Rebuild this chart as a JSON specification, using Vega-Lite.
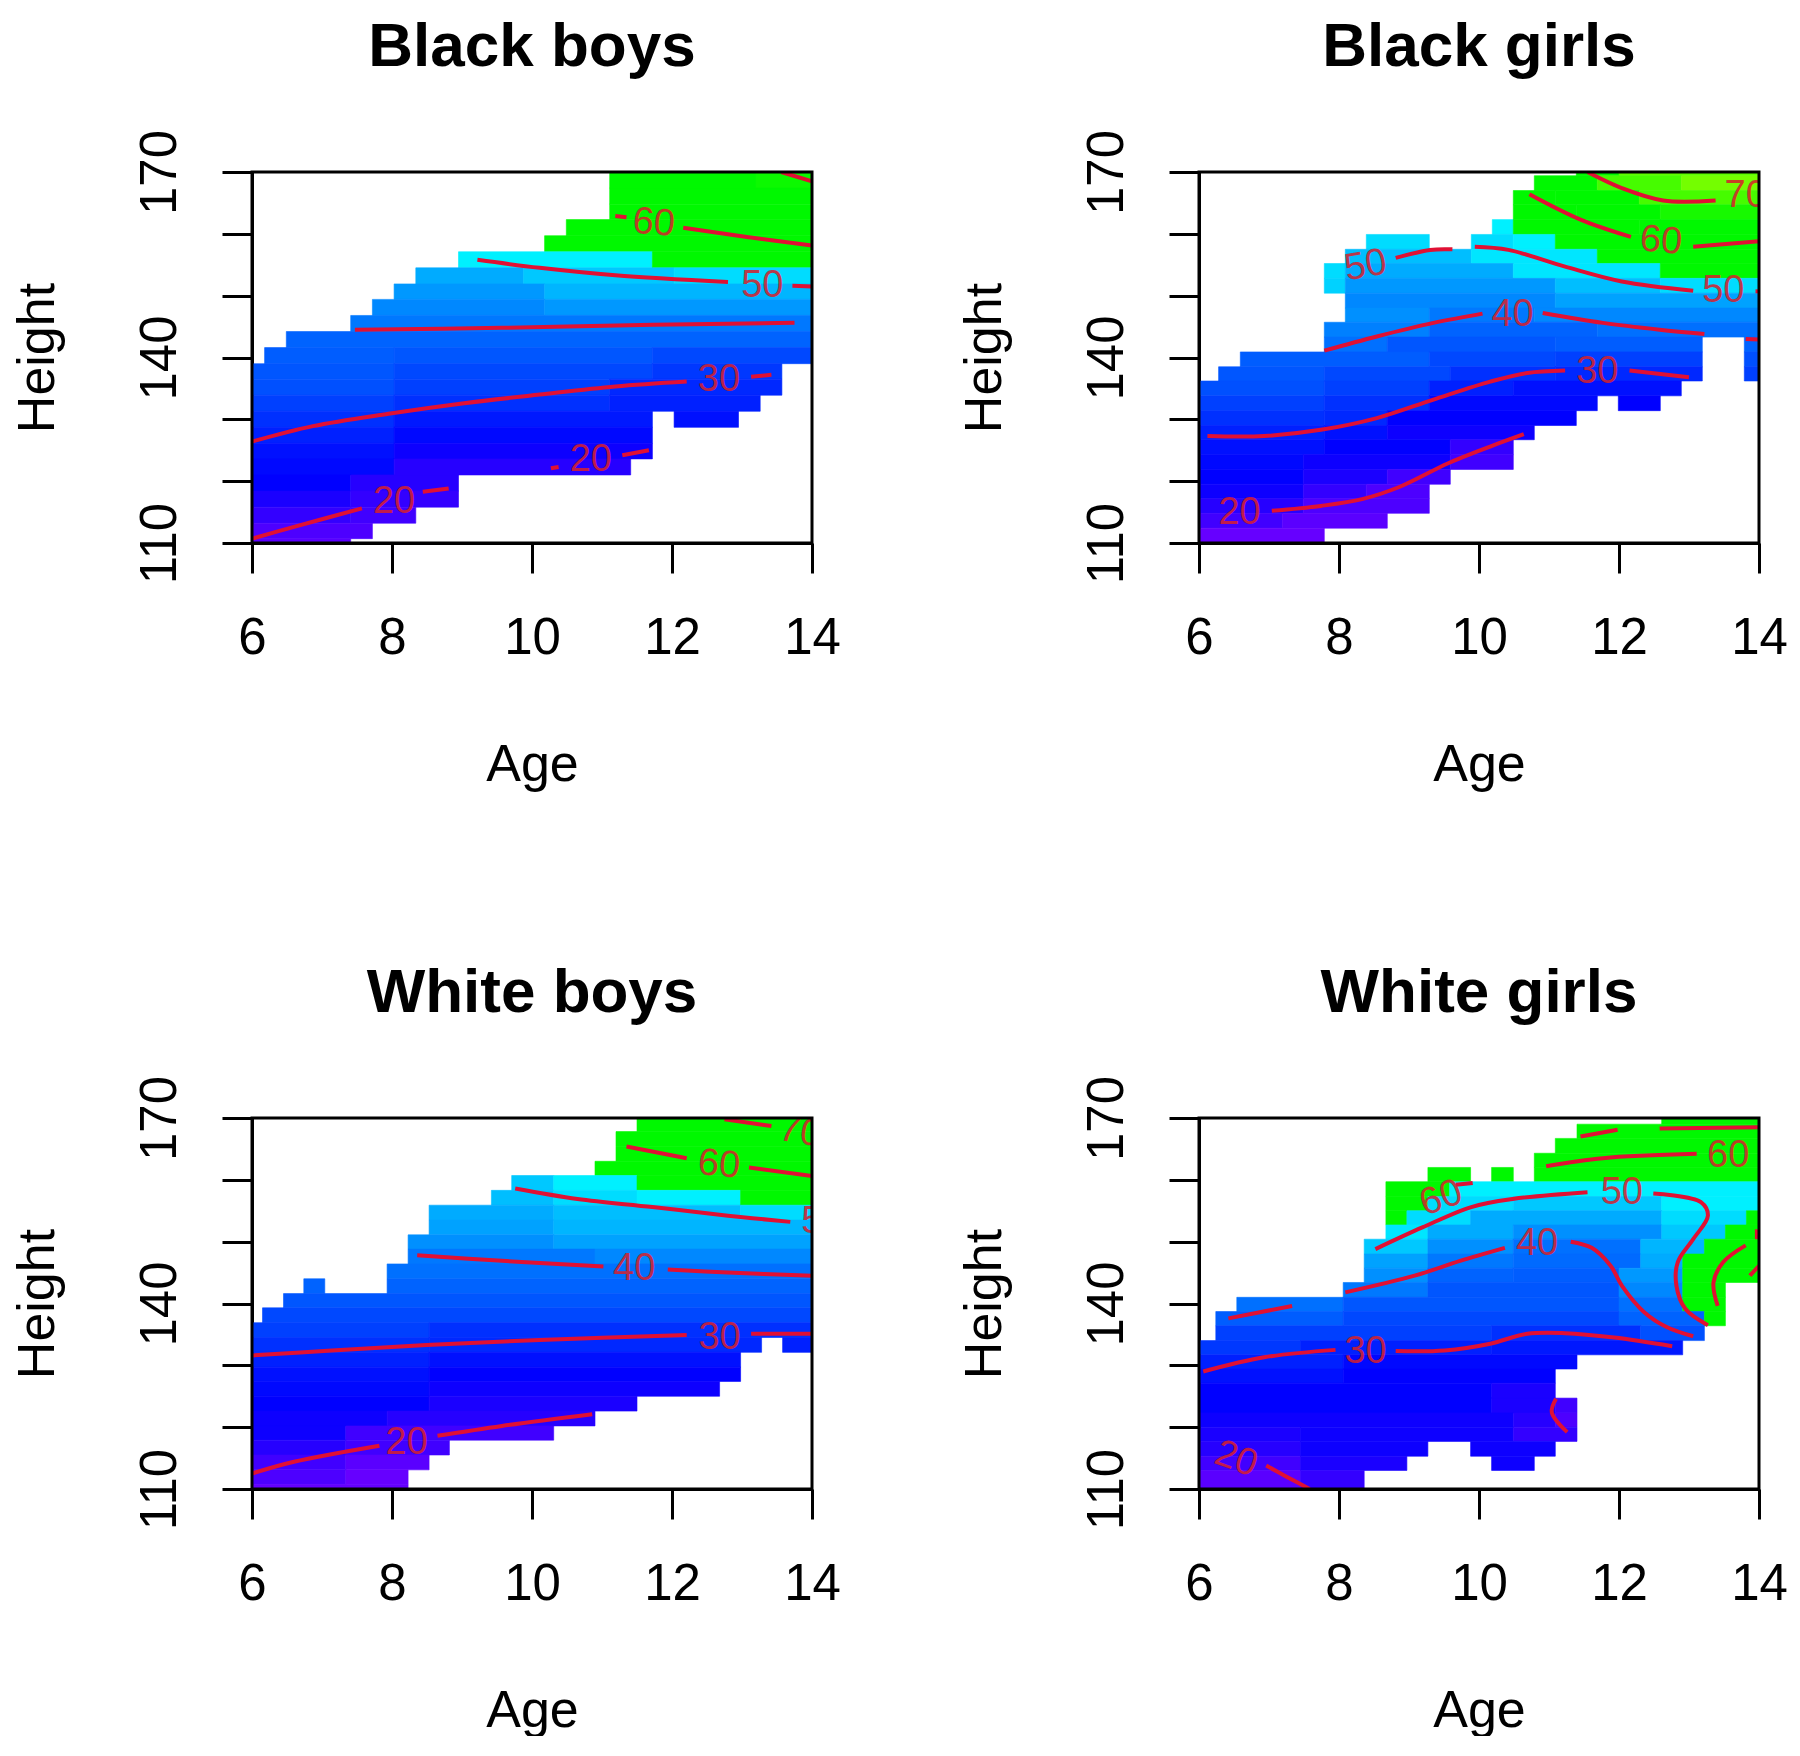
{"$schema":"https://vega.github.io/schema/vega-lite/v6.json","background":"white","padding":{"left":11,"top":16,"right":0,"bottom":0},"config":{"font":"Liberation Sans","view":{"stroke":null}},
"data":{"values":[
{"p":"Black boys","a":11.11,"b":13.2,"h":167.4,"t":170,"v":61},{"p":"Black boys","a":13.2,"b":14,"h":167.4,"t":170,"v":65},{"p":"Black boys","a":11.11,"b":14,"h":164.8,"t":167.4,"v":61},{"p":"Black boys","a":11.11,"b":14,"h":162.3,"t":164.8,"v":60},{"p":"Black boys","a":10.49,"b":14,"h":159.7,"t":162.3,"v":59},{"p":"Black boys","a":10.18,"b":14,"h":157.1,"t":159.7,"v":58},
{"p":"Black boys","a":8.95,"b":11.72,"h":154.5,"t":157.1,"v":54},{"p":"Black boys","a":11.72,"b":14,"h":154.5,"t":157.1,"v":57},
{"p":"Black boys","a":8.34,"b":9.88,"h":151.9,"t":154.5,"v":47},{"p":"Black boys","a":9.88,"b":12.03,"h":151.9,"t":154.5,"v":50},{"p":"Black boys","a":12.03,"b":14,"h":151.9,"t":154.5,"v":52},
{"p":"Black boys","a":8.03,"b":10.18,"h":149.4,"t":151.9,"v":45},{"p":"Black boys","a":10.18,"b":14,"h":149.4,"t":151.9,"v":48},
{"p":"Black boys","a":7.72,"b":10.18,"h":146.8,"t":149.4,"v":43},{"p":"Black boys","a":10.18,"b":14,"h":146.8,"t":149.4,"v":45},
{"p":"Black boys","a":7.41,"b":14,"h":144.2,"t":146.8,"v":41},{"p":"Black boys","a":6.49,"b":14,"h":141.6,"t":144.2,"v":38},
{"p":"Black boys","a":6.18,"b":8.03,"h":139,"t":141.6,"v":37},{"p":"Black boys","a":8.03,"b":11.72,"h":139,"t":141.6,"v":36},{"p":"Black boys","a":11.72,"b":14,"h":139,"t":141.6,"v":34},
{"p":"Black boys","a":6,"b":8.03,"h":136.5,"t":139,"v":36},{"p":"Black boys","a":8.03,"b":11.72,"h":136.5,"t":139,"v":34},{"p":"Black boys","a":11.72,"b":13.57,"h":136.5,"t":139,"v":32},
{"p":"Black boys","a":6,"b":8.03,"h":133.9,"t":136.5,"v":35},{"p":"Black boys","a":8.03,"b":11.11,"h":133.9,"t":136.5,"v":33},{"p":"Black boys","a":11.11,"b":13.57,"h":133.9,"t":136.5,"v":30},
{"p":"Black boys","a":6,"b":8.03,"h":131.3,"t":133.9,"v":33},{"p":"Black boys","a":8.03,"b":11.11,"h":131.3,"t":133.9,"v":31},{"p":"Black boys","a":11.11,"b":13.26,"h":131.3,"t":133.9,"v":29},
{"p":"Black boys","a":6,"b":8.03,"h":128.7,"t":131.3,"v":31},{"p":"Black boys","a":8.03,"b":11.72,"h":128.7,"t":131.3,"v":28},{"p":"Black boys","a":12.03,"b":12.95,"h":128.7,"t":131.3,"v":27},
{"p":"Black boys","a":6,"b":8.03,"h":126.1,"t":128.7,"v":29},{"p":"Black boys","a":8.03,"b":11.72,"h":126.1,"t":128.7,"v":26},
{"p":"Black boys","a":6,"b":8.03,"h":123.6,"t":126.1,"v":27},{"p":"Black boys","a":8.03,"b":11.72,"h":123.6,"t":126.1,"v":24},
{"p":"Black boys","a":6,"b":8.03,"h":121,"t":123.6,"v":26},{"p":"Black boys","a":8.03,"b":11.41,"h":121,"t":123.6,"v":22},
{"p":"Black boys","a":6,"b":7.41,"h":118.4,"t":121,"v":25},{"p":"Black boys","a":7.41,"b":8.95,"h":118.4,"t":121,"v":22},
{"p":"Black boys","a":6,"b":7.41,"h":115.8,"t":118.4,"v":23},{"p":"Black boys","a":7.41,"b":8.95,"h":115.8,"t":118.4,"v":21},
{"p":"Black boys","a":6,"b":7.41,"h":113.2,"t":115.8,"v":21},{"p":"Black boys","a":7.41,"b":8.34,"h":113.2,"t":115.8,"v":20},
{"p":"Black boys","a":6,"b":7.72,"h":110.7,"t":113.2,"v":19},{"p":"Black boys","a":6,"b":7.41,"h":110,"t":110.7,"v":18},

{"p":"Black girls","a":11.39,"b":12,"h":169.4,"t":170,"v":64},{"p":"Black girls","a":12,"b":14,"h":169.4,"t":170,"v":72},
{"p":"Black girls","a":10.79,"b":11.69,"h":167,"t":169.4,"v":63},{"p":"Black girls","a":11.69,"b":12.89,"h":167,"t":169.4,"v":70},{"p":"Black girls","a":12.89,"b":14,"h":167,"t":169.4,"v":74},
{"p":"Black girls","a":10.49,"b":11.09,"h":164.7,"t":167,"v":60},{"p":"Black girls","a":11.09,"b":12.29,"h":164.7,"t":167,"v":64},{"p":"Black girls","a":12.29,"b":14,"h":164.7,"t":167,"v":70},
{"p":"Black girls","a":10.49,"b":11.39,"h":162.3,"t":164.7,"v":58},{"p":"Black girls","a":11.39,"b":12.59,"h":162.3,"t":164.7,"v":62},{"p":"Black girls","a":12.59,"b":14,"h":162.3,"t":164.7,"v":66},
{"p":"Black girls","a":10.19,"b":10.49,"h":159.9,"t":162.3,"v":54},{"p":"Black girls","a":10.49,"b":12.29,"h":159.9,"t":162.3,"v":58},{"p":"Black girls","a":12.29,"b":14,"h":159.9,"t":162.3,"v":63},
{"p":"Black girls","a":8.39,"b":9.29,"h":157.5,"t":159.9,"v":52},{"p":"Black girls","a":9.89,"b":10.49,"h":157.5,"t":159.9,"v":52},{"p":"Black girls","a":10.49,"b":11.09,"h":157.5,"t":159.9,"v":54},{"p":"Black girls","a":11.09,"b":14,"h":157.5,"t":159.9,"v":58},
{"p":"Black girls","a":8.09,"b":9.89,"h":155.2,"t":157.5,"v":49},{"p":"Black girls","a":9.89,"b":11.69,"h":155.2,"t":157.5,"v":53},{"p":"Black girls","a":11.69,"b":14,"h":155.2,"t":157.5,"v":57},
{"p":"Black girls","a":7.79,"b":8.09,"h":152.8,"t":155.2,"v":52},{"p":"Black girls","a":8.09,"b":10.49,"h":152.8,"t":155.2,"v":47},{"p":"Black girls","a":10.49,"b":12.59,"h":152.8,"t":155.2,"v":53},{"p":"Black girls","a":12.59,"b":14,"h":152.8,"t":155.2,"v":56},
{"p":"Black girls","a":7.79,"b":8.09,"h":150.4,"t":152.8,"v":51},{"p":"Black girls","a":8.09,"b":11.09,"h":150.4,"t":152.8,"v":45},{"p":"Black girls","a":11.09,"b":12.59,"h":150.4,"t":152.8,"v":49},{"p":"Black girls","a":12.59,"b":14,"h":150.4,"t":152.8,"v":52},
{"p":"Black girls","a":8.09,"b":11.09,"h":148,"t":150.4,"v":43},{"p":"Black girls","a":11.09,"b":14,"h":148,"t":150.4,"v":46},
{"p":"Black girls","a":8.09,"b":9.29,"h":145.7,"t":148,"v":44},{"p":"Black girls","a":9.29,"b":10.79,"h":145.7,"t":148,"v":41},{"p":"Black girls","a":10.79,"b":14,"h":145.7,"t":148,"v":43},
{"p":"Black girls","a":7.79,"b":9.29,"h":143.3,"t":145.7,"v":42},{"p":"Black girls","a":9.29,"b":11.69,"h":143.3,"t":145.7,"v":38},{"p":"Black girls","a":11.69,"b":14,"h":143.3,"t":145.7,"v":40},
{"p":"Black girls","a":7.79,"b":8.69,"h":140.9,"t":143.3,"v":40},{"p":"Black girls","a":8.69,"b":11.09,"h":140.9,"t":143.3,"v":36},{"p":"Black girls","a":11.09,"b":13.19,"h":140.9,"t":143.3,"v":37},{"p":"Black girls","a":13.79,"b":14,"h":140.9,"t":143.3,"v":38},
{"p":"Black girls","a":6.59,"b":9.29,"h":138.5,"t":140.9,"v":37},{"p":"Black girls","a":9.29,"b":11.09,"h":138.5,"t":140.9,"v":34},{"p":"Black girls","a":11.09,"b":13.19,"h":138.5,"t":140.9,"v":33},{"p":"Black girls","a":13.79,"b":14,"h":138.5,"t":140.9,"v":35},
{"p":"Black girls","a":6.28,"b":7.79,"h":136.2,"t":138.5,"v":36},{"p":"Black girls","a":7.79,"b":9.59,"h":136.2,"t":138.5,"v":34},{"p":"Black girls","a":9.59,"b":11.09,"h":136.2,"t":138.5,"v":31},{"p":"Black girls","a":11.09,"b":13.19,"h":136.2,"t":138.5,"v":30},{"p":"Black girls","a":13.79,"b":14,"h":136.2,"t":138.5,"v":33},
{"p":"Black girls","a":6,"b":7.79,"h":133.8,"t":136.2,"v":35},{"p":"Black girls","a":7.79,"b":9.29,"h":133.8,"t":136.2,"v":33},{"p":"Black girls","a":9.29,"b":10.49,"h":133.8,"t":136.2,"v":29},{"p":"Black girls","a":10.49,"b":12.89,"h":133.8,"t":136.2,"v":27},
{"p":"Black girls","a":6,"b":7.79,"h":131.4,"t":133.8,"v":33},{"p":"Black girls","a":7.79,"b":9.29,"h":131.4,"t":133.8,"v":31},{"p":"Black girls","a":9.29,"b":11.69,"h":131.4,"t":133.8,"v":26},{"p":"Black girls","a":11.99,"b":12.59,"h":131.4,"t":133.8,"v":25},
{"p":"Black girls","a":6,"b":7.79,"h":129,"t":131.4,"v":31},{"p":"Black girls","a":7.79,"b":8.69,"h":129,"t":131.4,"v":30},{"p":"Black girls","a":8.69,"b":11.39,"h":129,"t":131.4,"v":25},
{"p":"Black girls","a":6,"b":7.79,"h":126.7,"t":129,"v":29},{"p":"Black girls","a":7.79,"b":8.69,"h":126.7,"t":129,"v":27},{"p":"Black girls","a":8.69,"b":10.79,"h":126.7,"t":129,"v":24},
{"p":"Black girls","a":6,"b":7.79,"h":124.3,"t":126.7,"v":27},{"p":"Black girls","a":7.79,"b":9.59,"h":124.3,"t":126.7,"v":25},{"p":"Black girls","a":9.59,"b":10.49,"h":124.3,"t":126.7,"v":21},
{"p":"Black girls","a":6,"b":7.49,"h":121.9,"t":124.3,"v":26},{"p":"Black girls","a":7.49,"b":9.59,"h":121.9,"t":124.3,"v":24},{"p":"Black girls","a":9.59,"b":10.49,"h":121.9,"t":124.3,"v":20},
{"p":"Black girls","a":6,"b":7.49,"h":119.5,"t":121.9,"v":25},{"p":"Black girls","a":7.49,"b":8.69,"h":119.5,"t":121.9,"v":23},{"p":"Black girls","a":8.69,"b":9.59,"h":119.5,"t":121.9,"v":20},
{"p":"Black girls","a":6,"b":7.49,"h":117.2,"t":119.5,"v":24},{"p":"Black girls","a":7.49,"b":8.39,"h":117.2,"t":119.5,"v":21},{"p":"Black girls","a":8.39,"b":9.29,"h":117.2,"t":119.5,"v":19},
{"p":"Black girls","a":6,"b":7.49,"h":114.8,"t":117.2,"v":22},{"p":"Black girls","a":7.49,"b":9.29,"h":114.8,"t":117.2,"v":19},
{"p":"Black girls","a":6,"b":7.19,"h":112.4,"t":114.8,"v":20},{"p":"Black girls","a":7.19,"b":8.69,"h":112.4,"t":114.8,"v":18},
{"p":"Black girls","a":6,"b":7.79,"h":110,"t":112.4,"v":17},

{"p":"White boys","a":11.5,"b":14,"h":167.8,"t":170,"v":63},{"p":"White boys","a":11.2,"b":14,"h":165.4,"t":167.8,"v":62},{"p":"White boys","a":11.2,"b":14,"h":163,"t":165.4,"v":61},{"p":"White boys","a":10.9,"b":14,"h":160.7,"t":163,"v":59},
{"p":"White boys","a":9.71,"b":10.31,"h":158.3,"t":160.7,"v":50},{"p":"White boys","a":10.31,"b":11.5,"h":158.3,"t":160.7,"v":54},{"p":"White boys","a":11.5,"b":14,"h":158.3,"t":160.7,"v":57},
{"p":"White boys","a":9.42,"b":10.31,"h":155.9,"t":158.3,"v":49},{"p":"White boys","a":10.31,"b":11.5,"h":155.9,"t":158.3,"v":52},{"p":"White boys","a":11.5,"b":12.98,"h":155.9,"t":158.3,"v":54},{"p":"White boys","a":12.98,"b":14,"h":155.9,"t":158.3,"v":57},
{"p":"White boys","a":8.53,"b":10.31,"h":153.5,"t":155.9,"v":47},{"p":"White boys","a":10.31,"b":12.98,"h":153.5,"t":155.9,"v":49},{"p":"White boys","a":12.98,"b":14,"h":153.5,"t":155.9,"v":52},
{"p":"White boys","a":8.53,"b":10.31,"h":151.1,"t":153.5,"v":46},{"p":"White boys","a":10.31,"b":14,"h":151.1,"t":153.5,"v":48},
{"p":"White boys","a":8.23,"b":10.31,"h":148.8,"t":151.1,"v":44},{"p":"White boys","a":10.31,"b":14,"h":148.8,"t":151.1,"v":46},
{"p":"White boys","a":8.23,"b":10.9,"h":146.4,"t":148.8,"v":41},{"p":"White boys","a":10.9,"b":14,"h":146.4,"t":148.8,"v":43},
{"p":"White boys","a":7.93,"b":14,"h":144,"t":146.4,"v":40},
{"p":"White boys","a":6.74,"b":7.04,"h":141.6,"t":144,"v":38},{"p":"White boys","a":7.93,"b":14,"h":141.6,"t":144,"v":38},
{"p":"White boys","a":6.45,"b":14,"h":139.3,"t":141.6,"v":36},{"p":"White boys","a":6.15,"b":14,"h":136.9,"t":139.3,"v":34},
{"p":"White boys","a":6,"b":8.53,"h":134.5,"t":136.9,"v":33},{"p":"White boys","a":8.53,"b":14,"h":134.5,"t":136.9,"v":31},
{"p":"White boys","a":6,"b":8.53,"h":132.1,"t":134.5,"v":31},{"p":"White boys","a":8.53,"b":13.28,"h":132.1,"t":134.5,"v":30},{"p":"White boys","a":13.58,"b":14,"h":132.1,"t":134.5,"v":29},
{"p":"White boys","a":6,"b":8.53,"h":129.7,"t":132.1,"v":29},{"p":"White boys","a":8.53,"b":12.98,"h":129.7,"t":132.1,"v":27},
{"p":"White boys","a":6,"b":8.53,"h":127.4,"t":129.7,"v":27},{"p":"White boys","a":8.53,"b":12.98,"h":127.4,"t":129.7,"v":25},
{"p":"White boys","a":6,"b":8.53,"h":125,"t":127.4,"v":26},{"p":"White boys","a":8.53,"b":12.68,"h":125,"t":127.4,"v":24},
{"p":"White boys","a":6,"b":8.53,"h":122.6,"t":125,"v":25},{"p":"White boys","a":8.53,"b":11.5,"h":122.6,"t":125,"v":23},
{"p":"White boys","a":6,"b":7.93,"h":120.2,"t":122.6,"v":24},{"p":"White boys","a":7.93,"b":10.9,"h":120.2,"t":122.6,"v":22},
{"p":"White boys","a":6,"b":7.34,"h":117.9,"t":120.2,"v":24},{"p":"White boys","a":7.34,"b":10.31,"h":117.9,"t":120.2,"v":20},
{"p":"White boys","a":6,"b":7.34,"h":115.5,"t":117.9,"v":22},{"p":"White boys","a":7.34,"b":8.82,"h":115.5,"t":117.9,"v":20},
{"p":"White boys","a":6,"b":7.34,"h":113.1,"t":115.5,"v":20},{"p":"White boys","a":7.34,"b":8.53,"h":113.1,"t":115.5,"v":18},
{"p":"White boys","a":6,"b":7.34,"h":110.7,"t":113.1,"v":19},{"p":"White boys","a":7.34,"b":8.23,"h":110.7,"t":113.1,"v":17},{"p":"White boys","a":6,"b":8.23,"h":110,"t":110.7,"v":17},

{"p":"White girls","a":12.61,"b":14,"h":169,"t":170,"v":62},{"p":"White girls","a":11.4,"b":14,"h":166.7,"t":169,"v":60},{"p":"White girls","a":11.09,"b":14,"h":164.3,"t":166.7,"v":60},{"p":"White girls","a":10.79,"b":14,"h":162,"t":164.3,"v":59},
{"p":"White girls","a":9.27,"b":9.88,"h":159.7,"t":162,"v":59},{"p":"White girls","a":10.18,"b":10.49,"h":159.7,"t":162,"v":59},{"p":"White girls","a":10.79,"b":14,"h":159.7,"t":162,"v":59},
{"p":"White girls","a":8.67,"b":9.58,"h":157.3,"t":159.7,"v":58},{"p":"White girls","a":9.58,"b":14,"h":157.3,"t":159.7,"v":54},
{"p":"White girls","a":8.67,"b":9.27,"h":155,"t":157.3,"v":57},{"p":"White girls","a":9.27,"b":10.49,"h":155,"t":157.3,"v":52},{"p":"White girls","a":10.49,"b":12.61,"h":155,"t":157.3,"v":50},{"p":"White girls","a":12.61,"b":14,"h":155,"t":157.3,"v":54},
{"p":"White girls","a":8.67,"b":8.97,"h":152.7,"t":155,"v":57},{"p":"White girls","a":8.97,"b":9.88,"h":152.7,"t":155,"v":52},{"p":"White girls","a":9.88,"b":12.61,"h":152.7,"t":155,"v":47},{"p":"White girls","a":12.61,"b":13.82,"h":152.7,"t":155,"v":52},{"p":"White girls","a":13.82,"b":14,"h":152.7,"t":155,"v":57},
{"p":"White girls","a":8.67,"b":9.27,"h":150.4,"t":152.7,"v":53},{"p":"White girls","a":9.27,"b":10.49,"h":150.4,"t":152.7,"v":47},{"p":"White girls","a":10.49,"b":12.61,"h":150.4,"t":152.7,"v":44},{"p":"White girls","a":12.61,"b":13.52,"h":150.4,"t":152.7,"v":50},{"p":"White girls","a":13.52,"b":14,"h":150.4,"t":152.7,"v":58},
{"p":"White girls","a":8.36,"b":9.27,"h":148,"t":150.4,"v":50},{"p":"White girls","a":9.27,"b":10.49,"h":148,"t":150.4,"v":44},{"p":"White girls","a":10.49,"b":12.31,"h":148,"t":150.4,"v":40},{"p":"White girls","a":12.31,"b":13.22,"h":148,"t":150.4,"v":48},{"p":"White girls","a":13.22,"b":14,"h":148,"t":150.4,"v":60},
{"p":"White girls","a":8.36,"b":9.27,"h":145.7,"t":148,"v":46},{"p":"White girls","a":9.27,"b":10.49,"h":145.7,"t":148,"v":41},{"p":"White girls","a":10.49,"b":12.31,"h":145.7,"t":148,"v":39},{"p":"White girls","a":12.31,"b":12.91,"h":145.7,"t":148,"v":47},{"p":"White girls","a":12.91,"b":14,"h":145.7,"t":148,"v":60},
{"p":"White girls","a":8.36,"b":9.27,"h":143.4,"t":145.7,"v":44},{"p":"White girls","a":9.27,"b":10.49,"h":143.4,"t":145.7,"v":38},{"p":"White girls","a":10.49,"b":12,"h":143.4,"t":145.7,"v":37},{"p":"White girls","a":12,"b":12.91,"h":143.4,"t":145.7,"v":45},{"p":"White girls","a":12.91,"b":14,"h":143.4,"t":145.7,"v":60},
{"p":"White girls","a":8.06,"b":9.27,"h":141,"t":143.4,"v":41},{"p":"White girls","a":9.27,"b":12,"h":141,"t":143.4,"v":36},{"p":"White girls","a":12,"b":12.91,"h":141,"t":143.4,"v":43},{"p":"White girls","a":12.91,"b":13.52,"h":141,"t":143.4,"v":58},
{"p":"White girls","a":6.54,"b":8.06,"h":138.7,"t":141,"v":40},{"p":"White girls","a":8.06,"b":12,"h":138.7,"t":141,"v":36},{"p":"White girls","a":12,"b":12.91,"h":138.7,"t":141,"v":40},{"p":"White girls","a":12.91,"b":13.52,"h":138.7,"t":141,"v":57},
{"p":"White girls","a":6.24,"b":8.06,"h":136.4,"t":138.7,"v":37},{"p":"White girls","a":8.06,"b":12,"h":136.4,"t":138.7,"v":34},{"p":"White girls","a":12,"b":13.22,"h":136.4,"t":138.7,"v":38},{"p":"White girls","a":13.22,"b":13.52,"h":136.4,"t":138.7,"v":56},
{"p":"White girls","a":6.24,"b":10.18,"h":134,"t":136.4,"v":33},{"p":"White girls","a":10.18,"b":12.31,"h":134,"t":136.4,"v":31},{"p":"White girls","a":12.31,"b":13.22,"h":134,"t":136.4,"v":35},
{"p":"White girls","a":6,"b":7.45,"h":131.7,"t":134,"v":32},{"p":"White girls","a":7.45,"b":10.18,"h":131.7,"t":134,"v":29},{"p":"White girls","a":10.18,"b":12.91,"h":131.7,"t":134,"v":28},
{"p":"White girls","a":6,"b":8.06,"h":129.4,"t":131.7,"v":29},{"p":"White girls","a":8.06,"b":11.4,"h":129.4,"t":131.7,"v":26},
{"p":"White girls","a":6,"b":8.06,"h":127.1,"t":129.4,"v":27},{"p":"White girls","a":8.06,"b":11.09,"h":127.1,"t":129.4,"v":25},
{"p":"White girls","a":6,"b":10.18,"h":124.7,"t":127.1,"v":25},{"p":"White girls","a":10.18,"b":11.09,"h":124.7,"t":127.1,"v":23},
{"p":"White girls","a":6,"b":10.18,"h":122.3,"t":124.7,"v":25},{"p":"White girls","a":10.18,"b":11.09,"h":122.3,"t":124.7,"v":23},{"p":"White girls","a":11.09,"b":11.4,"h":122.3,"t":124.7,"v":20},
{"p":"White girls","a":6,"b":10.49,"h":120,"t":122.3,"v":24},{"p":"White girls","a":10.49,"b":11.09,"h":120,"t":122.3,"v":22},{"p":"White girls","a":11.09,"b":11.4,"h":120,"t":122.3,"v":19},
{"p":"White girls","a":6,"b":7.45,"h":117.7,"t":120,"v":23},{"p":"White girls","a":7.45,"b":10.49,"h":117.7,"t":120,"v":24},{"p":"White girls","a":10.49,"b":11.4,"h":117.7,"t":120,"v":21},
{"p":"White girls","a":6,"b":7.45,"h":115.3,"t":117.7,"v":22},{"p":"White girls","a":7.45,"b":9.27,"h":115.3,"t":117.7,"v":24},{"p":"White girls","a":9.88,"b":11.09,"h":115.3,"t":117.7,"v":24},
{"p":"White girls","a":6,"b":7.45,"h":113,"t":115.3,"v":20},{"p":"White girls","a":7.45,"b":8.97,"h":113,"t":115.3,"v":23},{"p":"White girls","a":10.18,"b":10.79,"h":113,"t":115.3,"v":24},
{"p":"White girls","a":6,"b":7.45,"h":110,"t":113,"v":18},{"p":"White girls","a":7.45,"b":8.36,"h":110,"t":113,"v":21},

{"p":"Black boys","c":"a","i":1,"a":6,"h":110.7},{"p":"Black boys","c":"a","i":2,"a":6.6,"h":112.6},{"p":"Black boys","c":"a","i":3,"a":7.57,"h":115.6},
{"p":"Black boys","c":"b","i":1,"a":8.44,"h":118.3},{"p":"Black boys","c":"b","i":2,"a":8.81,"h":118.8},
{"p":"Black boys","c":"d","i":1,"a":10.27,"h":122.1},{"p":"Black boys","c":"d","i":2,"a":10.38,"h":122.3},
{"p":"Black boys","c":"e","i":1,"a":11.29,"h":124.2},{"p":"Black boys","c":"e","i":2,"a":11.67,"h":125},
{"p":"Black boys","c":"f","i":1,"a":6,"h":126.4},{"p":"Black boys","c":"f","i":2,"a":6.87,"h":128.9},{"p":"Black boys","c":"f","i":3,"a":7.95,"h":130.9},{"p":"Black boys","c":"f","i":4,"a":9.03,"h":132.6},{"p":"Black boys","c":"f","i":5,"a":10.11,"h":134},{"p":"Black boys","c":"f","i":6,"a":11.19,"h":135.3},{"p":"Black boys","c":"f","i":7,"a":12.21,"h":136.1},
{"p":"Black boys","c":"g","i":1,"a":13.13,"h":136.9},{"p":"Black boys","c":"g","i":2,"a":13.42,"h":137.2},
{"p":"Black boys","c":"m","i":1,"a":7.47,"h":144.5},{"p":"Black boys","c":"m","i":2,"a":9.57,"h":144.8},{"p":"Black boys","c":"m","i":3,"a":11.73,"h":145.3},{"p":"Black boys","c":"m","i":4,"a":13.75,"h":145.6},
{"p":"Black boys","c":"n","i":1,"a":9.22,"h":155.8},{"p":"Black boys","c":"n","i":2,"a":10.11,"h":154.5},{"p":"Black boys","c":"n","i":3,"a":11.19,"h":153.3},{"p":"Black boys","c":"n","i":4,"a":12.8,"h":152.2},
{"p":"Black boys","c":"o","i":1,"a":13.72,"h":151.6},{"p":"Black boys","c":"o","i":2,"a":14,"h":151.5},
{"p":"Black boys","c":"q","i":1,"a":11.19,"h":162.9},{"p":"Black boys","c":"q","i":2,"a":11.35,"h":162.7},
{"p":"Black boys","c":"r","i":1,"a":12.16,"h":161},{"p":"Black boys","c":"r","i":2,"a":13.07,"h":159.5},{"p":"Black boys","c":"r","i":3,"a":14,"h":158.1},
{"p":"Black boys","c":"s","i":1,"a":13.56,"h":170},{"p":"Black boys","c":"s","i":2,"a":14,"h":168.5},

{"p":"Black girls","c":"a","i":1,"a":7.04,"h":115.2},{"p":"Black girls","c":"a","i":2,"a":7.74,"h":116},{"p":"Black girls","c":"a","i":3,"a":8.33,"h":117.1},{"p":"Black girls","c":"a","i":4,"a":8.87,"h":119.1},{"p":"Black girls","c":"a","i":5,"a":9.56,"h":122.9},{"p":"Black girls","c":"a","i":6,"a":10.16,"h":125.6},{"p":"Black girls","c":"a","i":7,"a":10.64,"h":127.6},
{"p":"Black girls","c":"b","i":1,"a":6.12,"h":127.3},{"p":"Black girls","c":"b","i":2,"a":6.93,"h":127.3},{"p":"Black girls","c":"b","i":3,"a":7.74,"h":128.3},{"p":"Black girls","c":"b","i":4,"a":8.54,"h":130.2},{"p":"Black girls","c":"b","i":5,"a":9.35,"h":133.2},{"p":"Black girls","c":"b","i":6,"a":10.16,"h":136.1},{"p":"Black girls","c":"b","i":7,"a":10.69,"h":137.5},{"p":"Black girls","c":"b","i":8,"a":11.23,"h":137.9},
{"p":"Black girls","c":"d","i":1,"a":12.15,"h":137.9},{"p":"Black girls","c":"d","i":2,"a":13,"h":136.8},
{"p":"Black girls","c":"e","i":1,"a":7.79,"h":141.1},{"p":"Black girls","c":"e","i":2,"a":8.54,"h":143.4},{"p":"Black girls","c":"e","i":3,"a":9.35,"h":145.6},{"p":"Black girls","c":"e","i":4,"a":10.05,"h":147.1},
{"p":"Black girls","c":"f","i":1,"a":10.91,"h":147.2},{"p":"Black girls","c":"f","i":2,"a":11.77,"h":145.6},{"p":"Black girls","c":"f","i":3,"a":12.58,"h":144.5},{"p":"Black girls","c":"f","i":4,"a":13.22,"h":143.8},
{"p":"Black girls","c":"g","i":1,"a":13.81,"h":143},{"p":"Black girls","c":"g","i":2,"a":14,"h":142.9},
{"p":"Black girls","c":"m","i":1,"a":8.81,"h":156.1},{"p":"Black girls","c":"m","i":2,"a":9.3,"h":157.4},{"p":"Black girls","c":"m","i":3,"a":9.62,"h":157.5},
{"p":"Black girls","c":"n","i":1,"a":9.94,"h":157.9},{"p":"Black girls","c":"n","i":2,"a":10.42,"h":157.4},{"p":"Black girls","c":"n","i":3,"a":11.23,"h":154.7},{"p":"Black girls","c":"n","i":4,"a":12.04,"h":152.3},{"p":"Black girls","c":"n","i":5,"a":13.06,"h":150.8},
{"p":"Black girls","c":"o","i":1,"a":13.95,"h":150.7},{"p":"Black girls","c":"o","i":2,"a":14,"h":150.7},
{"p":"Black girls","c":"q","i":1,"a":10.72,"h":166.4},{"p":"Black girls","c":"q","i":2,"a":11.45,"h":162.3},{"p":"Black girls","c":"q","i":3,"a":12.17,"h":159.5},
{"p":"Black girls","c":"r","i":1,"a":13.06,"h":157.9},{"p":"Black girls","c":"r","i":2,"a":14,"h":158.8},
{"p":"Black girls","c":"s","i":1,"a":11.55,"h":170},{"p":"Black girls","c":"s","i":2,"a":12.04,"h":167.4},{"p":"Black girls","c":"s","i":3,"a":12.63,"h":165.4},{"p":"Black girls","c":"s","i":4,"a":13.38,"h":165.4},

{"p":"White boys","c":"a","i":1,"a":6,"h":112.5},{"p":"White boys","c":"a","i":2,"a":6.6,"h":114.4},{"p":"White boys","c":"a","i":3,"a":7.82,"h":117},
{"p":"White boys","c":"b","i":1,"a":8.65,"h":118.6},{"p":"White boys","c":"b","i":2,"a":9.57,"h":120.2},{"p":"White boys","c":"b","i":3,"a":10.86,"h":122.1},
{"p":"White boys","c":"d","i":1,"a":6,"h":131.6},{"p":"White boys","c":"d","i":2,"a":7.14,"h":132.4},{"p":"White boys","c":"d","i":3,"a":8.49,"h":133.3},{"p":"White boys","c":"d","i":4,"a":10.11,"h":134.1},{"p":"White boys","c":"d","i":5,"a":12.21,"h":134.9},
{"p":"White boys","c":"e","i":1,"a":13.13,"h":135.1},{"p":"White boys","c":"e","i":2,"a":14,"h":135.1},
{"p":"White boys","c":"f","i":1,"a":8.36,"h":147.8},{"p":"White boys","c":"f","i":2,"a":9.57,"h":146.9},{"p":"White boys","c":"f","i":3,"a":11.02,"h":146},
{"p":"White boys","c":"g","i":1,"a":11.94,"h":145.5},{"p":"White boys","c":"g","i":2,"a":12.8,"h":145},{"p":"White boys","c":"g","i":3,"a":14,"h":144.5},
{"p":"White boys","c":"m","i":1,"a":9.76,"h":158.6},{"p":"White boys","c":"m","i":2,"a":10.65,"h":156.9},{"p":"White boys","c":"m","i":3,"a":11.72,"h":155.6},{"p":"White boys","c":"m","i":4,"a":12.8,"h":154.2},{"p":"White boys","c":"m","i":5,"a":13.69,"h":153.2},
{"p":"White boys","c":"n","i":1,"a":11.35,"h":165.4},{"p":"White boys","c":"n","i":2,"a":12.21,"h":163.5},
{"p":"White boys","c":"o","i":1,"a":13.1,"h":162},{"p":"White boys","c":"o","i":2,"a":14,"h":160.6},
{"p":"White boys","c":"q","i":1,"a":12.75,"h":169.8},{"p":"White boys","c":"q","i":2,"a":13.42,"h":168.7},

{"p":"White girls","c":"a","i":1,"a":6.96,"h":113.8},{"p":"White girls","c":"a","i":2,"a":7.25,"h":112},{"p":"White girls","c":"a","i":3,"a":7.58,"h":110},
{"p":"White girls","c":"b","i":1,"a":6.06,"h":129},{"p":"White girls","c":"b","i":2,"a":6.93,"h":131.3},{"p":"White girls","c":"b","i":3,"a":7.95,"h":132.5},
{"p":"White girls","c":"d","i":1,"a":8.81,"h":132.3},{"p":"White girls","c":"d","i":2,"a":9.51,"h":132.4},{"p":"White girls","c":"d","i":3,"a":10.16,"h":133.5},{"p":"White girls","c":"d","i":4,"a":10.69,"h":135.1},{"p":"White girls","c":"d","i":5,"a":11.23,"h":135.2},{"p":"White girls","c":"d","i":6,"a":11.93,"h":134.5},{"p":"White girls","c":"d","i":7,"a":12.76,"h":133.1},
{"p":"White girls","c":"e","i":1,"a":8.09,"h":141.8},{"p":"White girls","c":"e","i":2,"a":9.08,"h":144.5},{"p":"White girls","c":"e","i":3,"a":9.73,"h":146.9},{"p":"White girls","c":"e","i":4,"a":10.37,"h":149},
{"p":"White girls","c":"f","i":1,"a":11.31,"h":150},{"p":"White girls","c":"f","i":2,"a":11.61,"h":149},{"p":"White girls","c":"f","i":3,"a":11.88,"h":146.1},{"p":"White girls","c":"f","i":4,"a":12.04,"h":142.9},{"p":"White girls","c":"f","i":5,"a":12.36,"h":138.6},{"p":"White girls","c":"f","i":6,"a":12.68,"h":136.2},{"p":"White girls","c":"f","i":7,"a":13.06,"h":134.7},
{"p":"White girls","c":"g","i":1,"a":6.42,"h":137.6},{"p":"White girls","c":"g","i":2,"a":7.33,"h":139.6},
{"p":"White girls","c":"m","i":1,"a":8.52,"h":148.8},{"p":"White girls","c":"m","i":2,"a":9.19,"h":152.3},{"p":"White girls","c":"m","i":3,"a":9.89,"h":155.6},{"p":"White girls","c":"m","i":4,"a":10.48,"h":156.9},{"p":"White girls","c":"m","i":5,"a":11.55,"h":158},
{"p":"White girls","c":"n","i":1,"a":12.49,"h":157.8},{"p":"White girls","c":"n","i":2,"a":13.17,"h":156.4},{"p":"White girls","c":"n","i":3,"a":13.27,"h":154.2},{"p":"White girls","c":"n","i":4,"a":13.06,"h":150.4},{"p":"White girls","c":"n","i":5,"a":12.84,"h":146.7},{"p":"White girls","c":"n","i":6,"a":12.82,"h":142.9},{"p":"White girls","c":"n","i":7,"a":12.95,"h":139.1},{"p":"White girls","c":"n","i":8,"a":13.27,"h":136.5},
{"p":"White girls","c":"o","i":1,"a":9.67,"h":159.2},{"p":"White girls","c":"o","i":2,"a":9.91,"h":159.5},
{"p":"White girls","c":"q","i":1,"a":10.96,"h":162.2},{"p":"White girls","c":"q","i":2,"a":11.77,"h":163.5},{"p":"White girls","c":"q","i":3,"a":13.11,"h":164.2},
{"p":"White girls","c":"r","i":1,"a":11.45,"h":167},{"p":"White girls","c":"r","i":2,"a":11.98,"h":168.1},
{"p":"White girls","c":"s","i":1,"a":12.58,"h":168.3},{"p":"White girls","c":"s","i":2,"a":14,"h":168.5},
{"p":"White girls","c":"u","i":1,"a":13.81,"h":149.4},{"p":"White girls","c":"u","i":2,"a":13.49,"h":146.7},{"p":"White girls","c":"u","i":3,"a":13.35,"h":143.4},{"p":"White girls","c":"u","i":4,"a":13.41,"h":139.6},
{"p":"White girls","c":"w","i":1,"a":13.87,"h":144.5},{"p":"White girls","c":"w","i":2,"a":14,"h":146.1},
{"p":"White girls","c":"x","i":1,"a":13.97,"h":152},{"p":"White girls","c":"x","i":2,"a":13.97,"h":150.4},
{"p":"White girls","c":"y","i":1,"a":11.1,"h":124.6},{"p":"White girls","c":"y","i":2,"a":11.04,"h":122.4},{"p":"White girls","c":"y","i":3,"a":11.26,"h":119.2},

{"p":"Black boys","l":"20","a":8.03,"h":116.7,"r":0},{"p":"Black boys","l":"20","a":10.84,"h":123.4,"r":0},{"p":"Black boys","l":"30","a":12.67,"h":136.4,"r":0},{"p":"Black boys","l":"40","a":14.3,"h":145.2,"r":0},{"p":"Black boys","l":"50","a":13.29,"h":151.6,"r":0},{"p":"Black boys","l":"60","a":11.74,"h":161.7,"r":5},
{"p":"Black girls","l":"20","a":6.58,"h":114.8,"r":0},{"p":"Black girls","l":"30","a":11.69,"h":137.7,"r":0},{"p":"Black girls","l":"40","a":10.48,"h":146.9,"r":0},{"p":"Black girls","l":"50","a":8.38,"h":154.8,"r":350},{"p":"Black girls","l":"50","a":13.49,"h":150.7,"r":0},{"p":"Black girls","l":"60","a":12.6,"h":158.8,"r":5},{"p":"Black girls","l":"70","a":13.81,"h":166.1,"r":0},
{"p":"White boys","l":"20","a":8.21,"h":117.5,"r":0},{"p":"White boys","l":"30","a":12.68,"h":134.5,"r":0},{"p":"White boys","l":"40","a":11.46,"h":145.5,"r":0},{"p":"White boys","l":"50","a":14.15,"h":153.1,"r":0},{"p":"White boys","l":"60","a":12.67,"h":162.4,"r":5},{"p":"White boys","l":"70","a":13.83,"h":167.7,"r":10},
{"p":"White girls","l":"20","a":6.53,"h":114.8,"r":20},{"p":"White girls","l":"30","a":8.38,"h":132.2,"r":0},{"p":"White girls","l":"40","a":10.83,"h":149.6,"r":0},{"p":"White girls","l":"50","a":12.04,"h":157.9,"r":0},{"p":"White girls","l":"60","a":9.46,"h":157,"r":340},{"p":"White girls","l":"60","a":13.56,"h":163.9,"r":0},

{"p":"Black boys","f":1,"a":6,"b":14,"h":110,"t":170},{"p":"Black girls","f":1,"a":6,"b":14,"h":110,"t":170},{"p":"White boys","f":1,"a":6,"b":14,"h":110,"t":170},{"p":"White girls","f":1,"a":6,"b":14,"h":110,"t":170}
]},
"columns":2,
"facet":{"field":"p","type":"nominal","title":null,"header":{"title":null,"labelFontSize":62,"labelFontWeight":"bold","labelColor":"black","labelPadding":50,"labelFont":"Liberation Sans"}},
"spacing":{"column":117,"row":172},
"resolve":{"axis":{"x":"independent","y":"independent"}},
"spec":{"width":560,"height":371,
"encoding":{
"x":{"field":"a","type":"quantitative","scale":{"domain":[6,14],"nice":false,"zero":false},"axis":{"title":"Age","values":[6,8,10,12,14],"grid":false,"domainWidth":3,"domainColor":"black","tickColor":"black","tickWidth":3,"tickSize":30,"labelFontSize":51,"labelColor":"black","labelPadding":40,"labelFlush":false,"labelBound":false,"labelOverlap":false,"titleFontSize":52,"titleFontWeight":"normal","titleColor":"black","titlePadding":76}},
"y":{"field":"h","type":"quantitative","scale":{"domain":[110,170],"nice":false,"zero":false},"axis":{"title":"Height","values":[110,120,130,140,150,160,170],"labelExpr":"(datum.value-110)%30==0?datum.label:''","grid":false,"domainWidth":3,"domainColor":"black","tickColor":"black","tickWidth":3,"tickSize":30,"labelFontSize":51,"labelColor":"black","labelAngle":-90,"labelAlign":"center","labelBaseline":"bottom","labelPadding":36,"labelFlush":false,"labelBound":false,"labelOverlap":false,"titleFontSize":52,"titleFontWeight":"normal","titleColor":"black","titlePadding":70}}
},
"layer":[
{"transform":[{"filter":"datum.v!=null"}],"mark":{"type":"rect","strokeWidth":0.6},"encoding":{"x2":{"field":"b"},"y2":{"field":"t"},"color":{"field":"v","type":"quantitative","legend":null,"scale":{"domain":[15,20,25,30,35,40,45,50,54,55.5,56,64,75],"range":["#8000ff","#4000ff","#0000ff","#0028ff","#0050ff","#0070ff","#0098ff","#00c8ff","#00f0ff","#00ffff","#00f800","#00f800","#80ff00"],"interpolate":"rgb"}},"stroke":{"field":"v","type":"quantitative","legend":null,"scale":{"domain":[15,20,25,30,35,40,45,50,54,55.5,56,64,75],"range":["#8000ff","#4000ff","#0000ff","#0028ff","#0050ff","#0070ff","#0098ff","#00c8ff","#00f0ff","#00ffff","#00f800","#00f800","#80ff00"],"interpolate":"rgb"}}}},
{"transform":[{"filter":"datum.c!=null"}],"mark":{"type":"line","color":"#e01034","strokeWidth":4,"interpolate":"catmull-rom","clip":true},"encoding":{"detail":{"field":"c"},"order":{"field":"i"}}},
{"transform":[{"filter":"datum.l!=null"}],"mark":{"type":"text","fontSize":38,"color":"#d8202c","opacity":0.85,"clip":true},"encoding":{"text":{"field":"l"},"angle":{"field":"r","scale":null}}},
{"transform":[{"filter":"datum.f!=null"}],"mark":{"type":"rect","fillOpacity":0,"stroke":"black","strokeWidth":3},"encoding":{"x2":{"field":"b"},"y2":{"field":"t"}}}
]}}
